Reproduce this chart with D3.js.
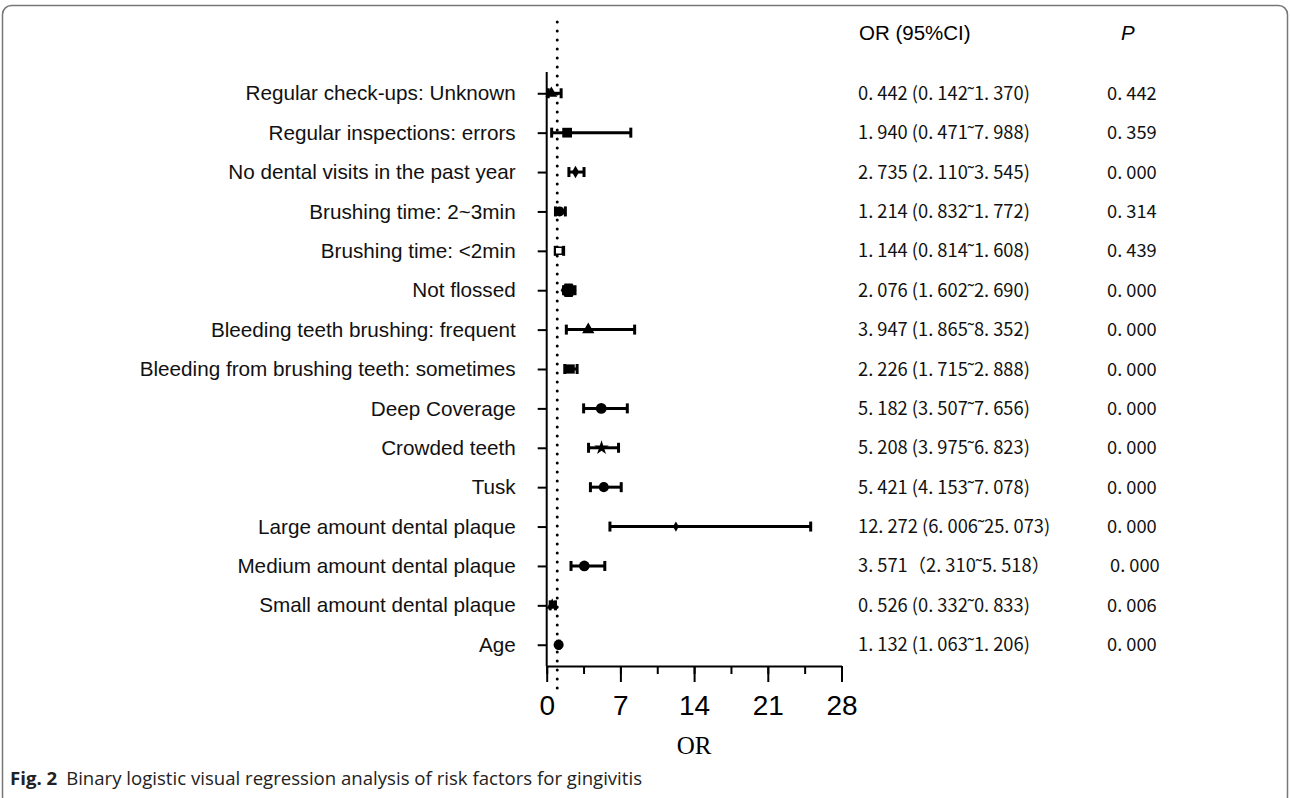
<!DOCTYPE html>
<html>
<head>
<meta charset="utf-8">
<script src="https://cdn.jsdelivr.net/npm/d3@7"></script>
<style>
  body { margin: 0; background: #fff; }
</style>
</head>
<body>
<svg></svg>
<script>
"use strict";

// factors, top to bottom
var factors = [
    'Regular check-ups: Unknown',
    'Regular inspections: errors',
    'No dental visits in the past year',
    'Brushing time: 2~3min',
    'Brushing time: <2min',
    'Not flossed',
    'Bleeding teeth brushing: frequent',
    'Bleeding from brushing teeth: sometimes',
    'Deep Coverage',
    'Crowded teeth',
    'Tusk',
    'Large amount dental plaque',
    'Medium amount dental plaque',
    'Small amount dental plaque',
    'Age'
];
var oddsRatio = [0.442, 1.940, 2.735, 1.214, 1.144, 2.076, 3.947, 2.226, 5.182, 5.208, 5.421, 12.272, 3.571, 0.526, 1.132];
var ciLower = [0.142, 0.471, 2.110, 0.832, 0.814, 1.602, 1.865, 1.715, 3.507, 3.975, 4.153, 6.006, 2.310, 0.332, 1.063];
var ciUpper = [1.370, 7.988, 3.545, 1.772, 1.608, 2.690, 8.352, 2.888, 7.656, 6.823, 7.078, 25.073, 5.518, 0.833, 1.206];
var pValues = [0.442, 0.359, 0.000, 0.314, 0.439, 0.000, 0.000, 0.000, 0.000, 0.000, 0.000, 0.000, 0.000, 0.006, 0.000];
var xTicks = [0, 7, 14, 21, 28];
var refLine = 1;

var settings = {
    width: 1290,
    height: 798,
    axis: { left: 546.7, right: 841.5, top: 72, bottom: 666 },
    stroke: 3,
    cap: 5,
    labelFont: '"Liberation Sans", Arial, sans-serif',
    cjkFont: '"Noto Sans CJK SC", sans-serif'
};

// marker shape for every row
var hexagon = {
    draw: function (ctx, size) {
        var r = Math.sqrt(size / 2.598);
        for (var i = 0; i < 6; i++) {
            var a = Math.PI / 3 * i;
            if (i === 0) ctx.moveTo(r * Math.cos(a), r * Math.sin(a));
            else ctx.lineTo(r * Math.cos(a), r * Math.sin(a));
        }
        ctx.closePath();
    }
};
var markers = [
    { type: d3.symbolTriangle, size: 60 },
    { type: d3.symbolSquare, size: 95 },
    { type: d3.symbolDiamond, size: 45 },
    { type: d3.symbolCircle, size: 80 },
    { type: d3.symbolSquare, size: 50, open: true },
    { type: hexagon, size: 160 },
    { type: d3.symbolTriangle, size: 65 },
    { type: d3.symbolSquare, size: 85 },
    { type: d3.symbolCircle, size: 90 },
    { type: d3.symbolStar, size: 65 },
    { type: d3.symbolCircle, size: 80 },
    { type: d3.symbolDiamond, size: 30 },
    { type: d3.symbolCircle, size: 90 },
    { type: d3.symbolTriangle, size: 60 },
    { type: d3.symbolCircle, size: 80 }
];

var rows = factors.map((f, i) => ({
    name: f,
    or: oddsRatio[i],
    lo: ciLower[i],
    hi: ciUpper[i],
    p: pValues[i],
    marker: markers[i]
}));

var fmt = v => d3.format('.3f')(v).replace('.', '. ');

var svg = d3.select('svg')
    .attr('width', settings.width)
    .attr('height', settings.height);

// figure frame
svg.append('rect')
    .attr('x', 2.5)
    .attr('y', 5.5)
    .attr('width', 1285)
    .attr('height', 800)
    .attr('rx', 9)
    .attr('fill', 'none')
    .attr('stroke', '#777')
    .attr('stroke-width', 1.5);

var x = d3.scaleLinear()
    .domain([0, 28])
    .range([settings.axis.left, settings.axis.right]);

var y = d3.scalePoint()
    .domain(factors)
    .range([settings.axis.top, settings.axis.bottom])
    .padding(0.54);

// reference line at OR = 1
svg.append('line')
    .attr('x1', x(refLine))
    .attr('x2', x(refLine))
    .attr('y1', 22)
    .attr('y2', 690)
    .attr('stroke', '#000')
    .attr('stroke-width', 3)
    .attr('stroke-linecap', 'round')
    .attr('stroke-dasharray', '0,9');

// y axis
var yAxis = svg.append('g')
    .attr('transform', `translate(${settings.axis.left},0)`)
    .call(d3.axisLeft(y).tickSize(9).tickPadding(22).tickSizeOuter(0));
yAxis.select('.domain').attr('stroke-width', 2).attr('d', `M0,${settings.axis.top}V${settings.axis.bottom}`);
yAxis.selectAll('.tick line').attr('stroke-width', 2);
yAxis.selectAll('.tick text')
    .style('font-family', settings.labelFont)
    .style('font-size', '20.7px')
    .attr('fill', '#111');

// x axis with minor ticks
var xMinor = svg.append('g')
    .attr('transform', `translate(0,${settings.axis.bottom})`)
    .call(d3.axisBottom(x).tickValues(d3.range(0, 28.1, 3.5)).tickSize(8).tickFormat('').tickSizeOuter(0));
xMinor.select('.domain').attr('stroke-width', 2);
xMinor.selectAll('.tick line').attr('stroke-width', 2);

var xAxis = svg.append('g')
    .attr('transform', `translate(0,${settings.axis.bottom})`)
    .call(d3.axisBottom(x).tickValues(xTicks).tickSize(16).tickPadding(13).tickSizeOuter(0));
xAxis.select('.domain').remove();
xAxis.selectAll('.tick line').attr('stroke-width', 2);
xAxis.selectAll('.tick text')
    .style('font-family', settings.labelFont)
    .style('font-size', '28px')
    .attr('fill', '#000');

svg.append('text')
    .attr('x', (settings.axis.left + settings.axis.right) / 2)
    .attr('y', 754)
    .attr('text-anchor', 'middle')
    .style('font-family', '"Liberation Serif", serif')
    .style('font-size', '25px')
    .text('OR');

// error bars
var bars = svg.append('g').attr('class', 'bars')
    .selectAll('g')
    .data(rows)
    .enter()
    .append('g')
    .attr('transform', d => `translate(0,${y(d.name)})`);

bars.append('line')
    .attr('x1', d => x(d.lo))
    .attr('x2', d => x(d.hi))
    .attr('stroke', '#000')
    .attr('stroke-width', settings.stroke);

bars.selectAll('.cap')
    .data(d => [d.lo, d.hi])
    .enter()
    .append('line')
    .attr('class', 'cap')
    .attr('x1', d => x(d))
    .attr('x2', d => x(d))
    .attr('y1', -settings.cap)
    .attr('y2', settings.cap)
    .attr('stroke', '#000')
    .attr('stroke-width', settings.stroke);

bars.append('path')
    .attr('transform', d => `translate(${x(d.or)},0)`)
    .attr('d', d => d3.symbol().type(d.marker.type).size(d.marker.size)())
    .attr('fill', d => d.marker.open ? '#fff' : '#000')
    .attr('stroke', '#000')
    .attr('stroke-width', d => d.marker.open ? 1.5 : 0);

// table columns
svg.append('text')
    .attr('x', 859)
    .attr('y', 40)
    .style('font-family', settings.labelFont)
    .style('font-size', '20.5px')
    .text('OR (95%CI)');

svg.append('text')
    .attr('x', 1121)
    .attr('y', 40)
    .style('font-family', settings.labelFont)
    .style('font-size', '20.5px')
    .style('font-style', 'italic')
    .text('P');

var table = svg.append('g').attr('class', 'table');

table.selectAll('.ci')
    .data(rows)
    .enter()
    .append('text')
    .attr('class', 'ci')
    .attr('x', 858)
    .attr('y', d => y(d.name) + 6.5)
    .style('font-family', settings.cjkFont)
    .style('font-size', '18.3px')
    .attr('fill', '#111')
    .text((d, i) => i === 12
        ? `${fmt(d.or)}（${fmt(d.lo)}˜${fmt(d.hi)}）`
        : `${fmt(d.or)} (${fmt(d.lo)}˜${fmt(d.hi)})`);

table.selectAll('.p')
    .data(rows)
    .enter()
    .append('text')
    .attr('class', 'p')
    .attr('x', (d, i) => i === 12 ? 1110 : 1107)
    .attr('y', d => y(d.name) + 6.5)
    .style('font-family', settings.cjkFont)
    .style('font-size', '18.3px')
    .attr('fill', '#111')
    .text(d => fmt(d.p));

// caption
var caption = svg.append('text')
    .attr('x', 10)
    .attr('y', 785)
    .style('font-family', '"Open Sans", sans-serif')
    .style('font-size', '18.6px')
    .attr('fill', '#222');
caption.append('tspan').style('font-weight', 'bold').text('Fig. 2');
caption.append('tspan').attr('dx', 9).text('Binary logistic visual regression analysis of risk factors for gingivitis');
</script>
</body>
</html>
